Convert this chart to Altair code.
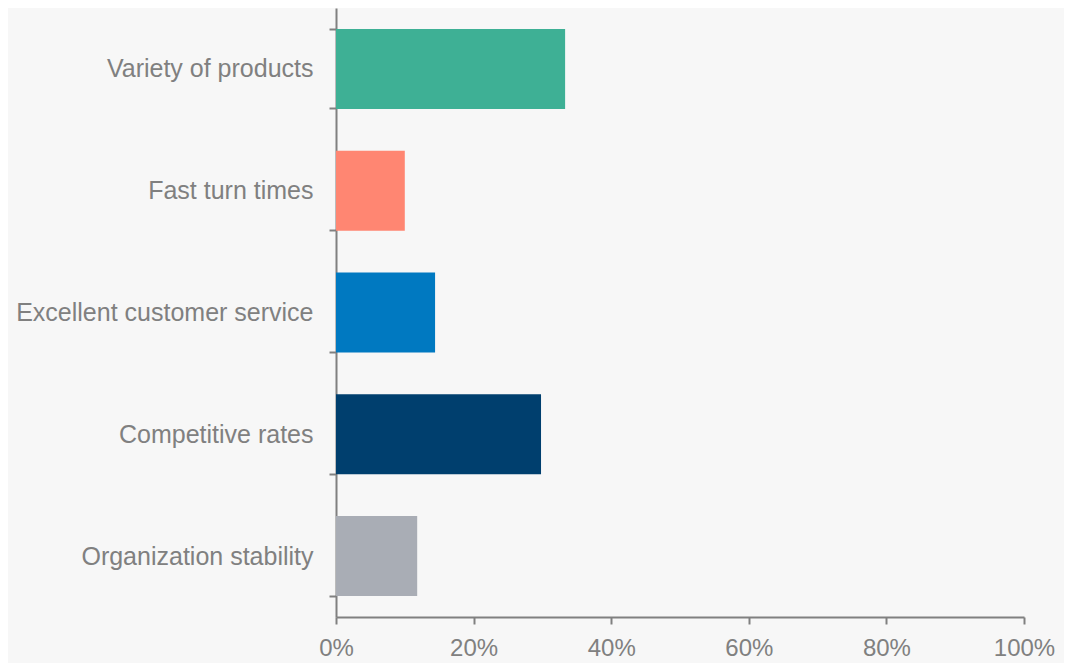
import altair as alt
import pandas as pd

categories = ["Variety of products", "Fast turn times", "Excellent customer service",
              "Competitive rates", "Organization stability"]
values = [0.333, 0.100, 0.144, 0.298, 0.118]
colors = ["#3EB095", "#FF8672", "#0079C1", "#003F6E", "#A9ADB5"]

df = pd.DataFrame({"category": categories, "value": values, "color": colors})

axis_color = "#808080"
chart = alt.Chart(df).mark_bar(size=80).encode(
    y=alt.Y("category:N", sort=categories, title=None,
            scale=alt.Scale(paddingInner=0.35, paddingOuter=0.175),
            axis=alt.Axis(tickBand="extent", labelFontSize=25, labelColor=axis_color,
                          labelFont="Liberation Sans", labelPadding=16, labelLimit=400,
                          domainColor=axis_color, tickColor=axis_color,
                          domainWidth=2, tickWidth=2, tickSize=7)),
    x=alt.X("value:Q", title=None,
            scale=alt.Scale(domain=[0, 1]),
            axis=alt.Axis(format=".0%", values=[0, 0.2, 0.4, 0.6, 0.8, 1.0],
                          labelFontSize=24, labelColor=axis_color, labelFlush=False,
                          labelFont="Liberation Sans", labelPadding=12,
                          domainColor=axis_color, tickColor=axis_color,
                          domainWidth=2, tickWidth=2, tickSize=7, grid=False)),
    color=alt.Color("color:N", scale=None),
).properties(
    width=688, height=609,
    padding={"left": 328, "top": 0, "right": 40, "bottom": 48},
    autosize=alt.AutoSizeParams(type="none"),
    background="#f7f7f7",
).configure_view(stroke=None)

chart.save("out.html", embed_options={"renderer": "svg", "actions": False})
